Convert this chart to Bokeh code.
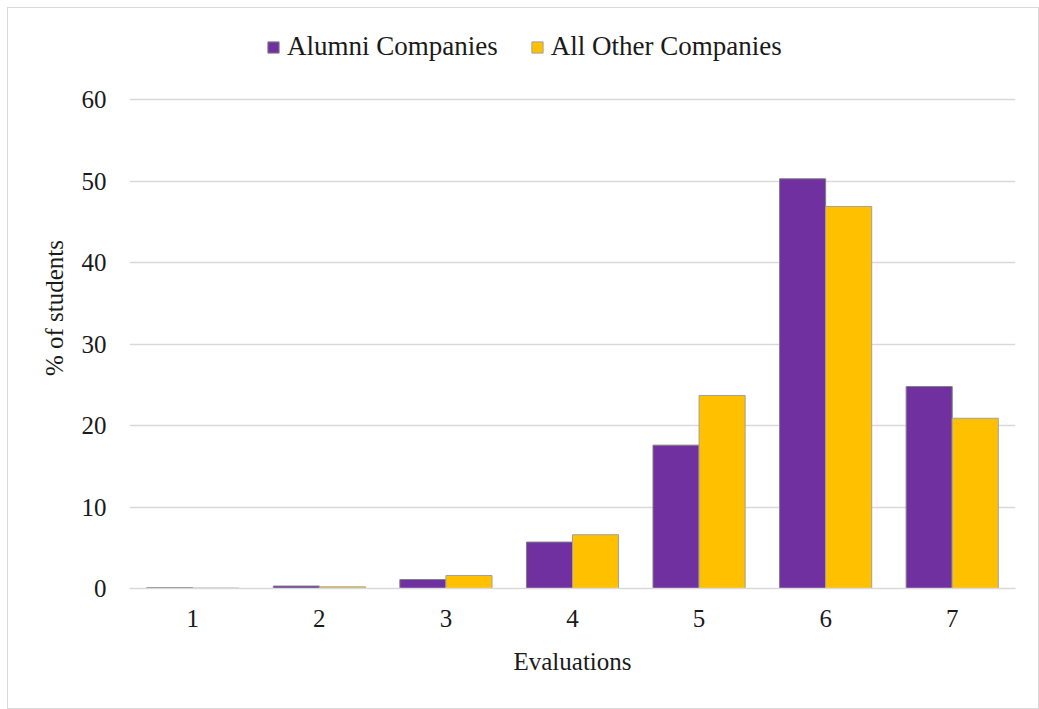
from bokeh.plotting import figure
from bokeh.models import ColumnDataSource, Legend, LegendItem, FixedTicker, Range1d
from bokeh.embed import file_html
from bokeh.resources import INLINE

evaluations = [1, 2, 3, 4, 5, 6, 7]
tick_labels = ["1", "2", "3", "4", "5", "6", "7"]
y_ticks = [0, 10, 20, 30, 40, 50, 60]
alumni = [0.1, 0.3, 1.1, 5.7, 17.6, 50.3, 24.8]
others = [0.05, 0.2, 1.6, 6.6, 23.7, 46.9, 20.9]

FONT = "Liberation Serif"
TXT = "#1a1a1a"
bw = 0.364

src = ColumnDataSource(dict(
    xa=[e - bw / 2 for e in evaluations],
    xo=[e + bw / 2 for e in evaluations],
    alumni=alumni, others=others,
))

p = figure(width=1032, height=702, output_backend="svg", toolbar_location=None,
           x_range=Range1d(0.5, 7.5), y_range=Range1d(0, 68.87),
           min_border_left=121, min_border_right=25, min_border_top=19, min_border_bottom=122)
p.styles = {"border": "1px solid #d9d9d9", "box-sizing": "border-box",
            "margin-left": "7px", "margin-top": "7px"}
p.outline_line_color = None
p.background_fill_color = "white"

ra = p.vbar(x="xa", top="alumni", width=bw, source=src, fill_color="#7030A0",
            line_color="#808080", line_width=1)
ro = p.vbar(x="xo", top="others", width=bw, source=src, fill_color="#FFC000",
            line_color="#A0A0A0", line_width=1)

p.xgrid.grid_line_color = None
p.ygrid.grid_line_color = "#d9d9d9"
p.ygrid.grid_line_width = 1.5
p.yaxis.ticker = FixedTicker(ticks=y_ticks)
p.xaxis.ticker = FixedTicker(ticks=evaluations)
p.xaxis.major_label_overrides = {e: l for e, l in zip(evaluations, tick_labels)}

for ax in (p.xaxis[0], p.yaxis[0]):
    ax.major_tick_line_color = None
    ax.minor_tick_line_color = None
    ax.major_label_text_font = FONT
    ax.major_label_text_font_size = "25px"
    ax.major_label_text_color = TXT
    ax.axis_label_text_font = FONT
    ax.axis_label_text_font_size = "25px"
    ax.axis_label_text_font_style = "normal"
    ax.axis_label_text_color = TXT

p.yaxis.axis_line_color = None
p.xaxis.axis_line_color = "#d9d9d9"
p.xaxis.axis_line_width = 1.5
p.yaxis.axis_label = "% of students"
p.xaxis.axis_label = "Evaluations"
p.yaxis.major_label_standoff = 17
p.yaxis.axis_label_standoff = 11
p.xaxis.major_label_standoff = 15
p.xaxis.axis_label_standoff = 18

legend = Legend(items=[LegendItem(label="Alumni Companies", renderers=[ra]),
                       LegendItem(label="All Other Companies", renderers=[ro])],
                orientation="horizontal", location=(137, 526),
                label_text_font=FONT, label_text_font_size="27px",
                label_text_color=TXT, glyph_width=14, glyph_height=14,
                spacing=32, label_standoff=7, border_line_color=None,
                background_fill_alpha=0, margin=0, padding=4)
p.add_layout(legend, "center")

open("out.html", "w").write(file_html(p, INLINE))
